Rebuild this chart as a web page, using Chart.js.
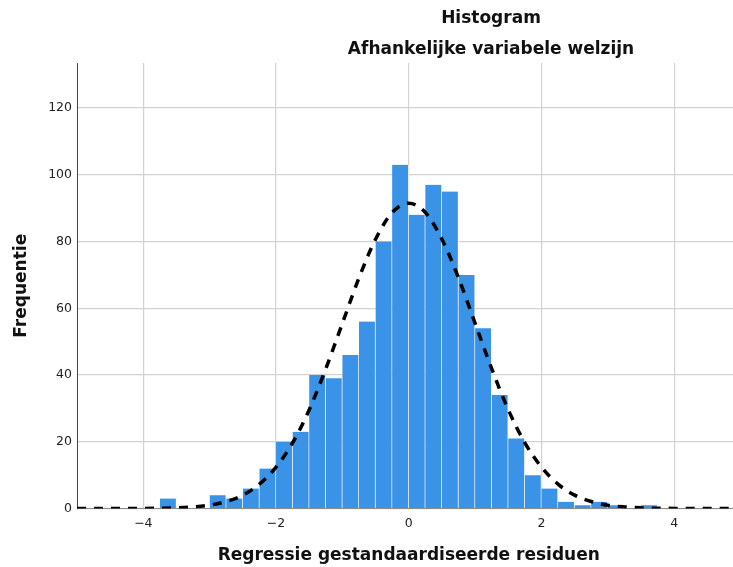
<!DOCTYPE html>
<html>
<head>
<meta charset="utf-8">
<title>Histogram</title>
<style>
  html, body { margin: 0; padding: 0; background: #ffffff; overflow: hidden; }
  #wrap { width: 760px; height: 567px; }
</style>
<script src="https://cdn.jsdelivr.net/npm/chart.js@4.4.1/dist/chart.umd.min.js"></script>
</head>
<body>
<div id="wrap"><canvas id="chart" width="760" height="567"></canvas></div>
<script>
// Histogram bins (centre of each 0.25-wide bin) and their counts
const binCenters = [
  -3.625, -3.375, -3.125, -2.875, -2.625, -2.375, -2.125, -1.875, -1.625, -1.375,
  -1.125, -0.875, -0.625, -0.375, -0.125, 0.125, 0.375, 0.625, 0.875, 1.125,
  1.375, 1.625, 1.875, 2.125, 2.375, 2.625, 2.875, 3.125, 3.375, 3.625
];
const frequencies = [
  3, 0, 0, 4, 3, 6, 12, 20, 23, 40,
  39, 46, 56, 80, 103, 88, 97, 95, 70, 54,
  34, 21, 10, 6, 2, 1, 2, 1, 0, 1
];

// Fitted normal curve, sampled every 0.25
const curveX = [
  -5, -4.75, -4.5, -4.25, -4, -3.75, -3.5, -3.25, -3, -2.75, -2.5, -2.25, -2, -1.75,
  -1.5, -1.25, -1, -0.75, -0.5, -0.25, 0, 0.25, 0.5, 0.75, 1, 1.25, 1.5, 1.75,
  2, 2.25, 2.5, 2.75, 3, 3.25, 3.5, 3.75, 4, 4.25, 4.5, 4.75, 5
];
const curveY = [
  0, 0, 0, 0, 0.03, 0.08, 0.2, 0.47, 1.0, 2.1, 4.0, 7.3, 12.4, 19.7,
  29.6, 41.9, 55.5, 69.1, 80.7, 88.7, 91.5, 88.7, 80.7, 69.1, 55.5, 41.9, 29.6, 19.7,
  12.4, 7.3, 4.0, 2.1, 1.0, 0.47, 0.2, 0.08, 0.03, 0, 0, 0, 0
];

// Axis ticks and texts
const xTicks = [-4, -2, 0, 2, 4];
const yTicks = [0, 20, 40, 60, 80, 100, 120];
const titleLines = ['Histogram', 'Afhankelijke variabele welzijn'];
const xTitle = 'Regressie gestandaardiseerde residuen';
const yTitle = 'Frequentie';

const FONT = '"DejaVu Sans", Verdana, sans-serif';

// Two centred heading lines above the plot
const headerPlugin = {
  id: 'header',
  afterDraw(chart) {
    const ctx = chart.ctx;
    ctx.save();
    ctx.font = 'bold 17px ' + FONT;
    ctx.fillStyle = '#111111';
    ctx.textAlign = 'center';
    ctx.textBaseline = 'middle';
    ctx.fillText(titleLines[0], 491, 18.5);
    ctx.fillText(titleLines[1], 491, 49.5);
    ctx.restore();
  }
};

const barData = binCenters.map((x, i) => ({ x: x, y: frequencies[i] }));
const curveData = curveX.map((x, i) => ({ x: x, y: curveY[i] }));

new Chart(document.getElementById('chart'), {
  type: 'bar',
  data: {
    datasets: [
      {
        type: 'line',
        data: curveData,
        borderColor: '#000000',
        borderWidth: 3.5,
        borderDash: [9, 8],
        borderCapStyle: 'butt',
        pointRadius: 0,
        fill: false,
        cubicInterpolationMode: 'monotone',
        order: 1
      },
      {
        type: 'bar',
        data: barData,
        backgroundColor: '#3a93e6',
        borderColor: 'rgba(255,255,255,0.8)',
        borderWidth: { top: 0, right: 1, bottom: 0, left: 0 },
        borderSkipped: 'start',
        barPercentage: 1,
        categoryPercentage: 1,
        order: 2
      }
    ]
  },
  options: {
    responsive: false,
    animation: false,
    events: [],
    layout: { padding: { top: 63, right: 19.5, bottom: 0, left: 0 } },
    plugins: {
      legend: { display: false },
      tooltip: { enabled: false },
      title: { display: false }
    },
    scales: {
      x: {
        type: 'linear',
        min: -5,
        max: 5,
        offset: false,
        afterBuildTicks: (scale) => { scale.ticks = xTicks.map(v => ({ value: v })); },
        afterFit: (scale) => { scale.height = 58.5; },
        grid: { color: '#d2d2d2', lineWidth: 1.2, drawTicks: false, offset: false },
        border: { display: true, color: '#8c8c8c', width: 1 },
        ticks: {
          padding: 8,
          color: '#222222',
          font: { family: FONT, size: 12.5 },
          maxRotation: 0,
          callback: (v) => (v < 0 ? '\u2212' + Math.abs(v) : String(v))
        },
        title: {
          display: true,
          text: xTitle,
          color: '#111111',
          font: { family: FONT, size: 17, weight: 'bold' },
          padding: { top: 0, bottom: 1 }
        }
      },
      y: {
        type: 'linear',
        min: 0,
        max: 133.5,
        afterBuildTicks: (scale) => { scale.ticks = yTicks.map(v => ({ value: v })); },
        afterFit: (scale) => { scale.width = 77; },
        grid: { color: '#d2d2d2', lineWidth: 1.2, drawTicks: false },
        border: { display: true, color: '#444444', width: 1 },
        ticks: {
          padding: 5,
          color: '#222222',
          font: { family: FONT, size: 12.5 }
        },
        title: {
          display: true,
          text: yTitle,
          color: '#111111',
          font: { family: FONT, size: 17, weight: 'bold' },
          padding: { top: 11, bottom: 0 }
        }
      }
    }
  },
  plugins: [headerPlugin]
});
</script>
</body>
</html>
